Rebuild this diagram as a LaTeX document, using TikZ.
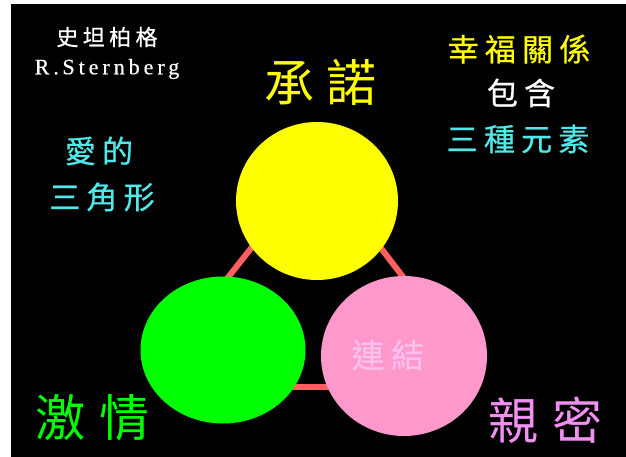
\documentclass[tikz,border=0pt]{standalone}
\usepackage{fontspec}
\setmainfont{Liberation Serif}
\newfontfamily\cjk{Noto Sans CJK TC}
\newfontfamily\cjkwide[LetterSpace=20, FakeBold=0.6]{Noto Sans CJK TC}
\newfontfamily\latinwide[LetterSpace=18, FakeBold=0.5]{Liberation Serif}
\usetikzlibrary{shapes.geometric}
\definecolor{triline}{HTML}{FF5F5F}
\definecolor{commitfill}{HTML}{FFFF00}
\definecolor{passionfill}{HTML}{00FF00}
\definecolor{intimacyfill}{HTML}{FF99CC}
\definecolor{cyantext}{HTML}{50E8E8}
\definecolor{violettext}{HTML}{F090F0}
\definecolor{linktext}{HTML}{FFC0F0}
\begin{document}
\begin{tikzpicture}[x=1pt, y=-1pt,
    circ/.style={ellipse, inner sep=0pt},
    side/.style={triline, line width=6pt},
    bigtext/.style={font=\cjk\fontsize{50}{50}\selectfont, inner sep=0pt},
    midtext/.style={font=\cjkwide\fontsize{31}{31}\selectfont, inner sep=0pt},
    smalltext/.style={font=\cjkwide\fontsize{22}{22}\selectfont, inner sep=0pt, text=white}]
    % background
    \useasboundingbox (0,0) rectangle (626,457);
    \fill[black] (11,4) rectangle (626,457);
    % triangle sides, ends hidden under the circles
    \coordinate (top) at (317,165);
    \coordinate (leftend) at (184,333);
    \coordinate (rightend) at (450,338);
    \coordinate (baseleft) at (250,387);
    \coordinate (baseright) at (440,387);
    \draw[side] (top) -- (leftend);
    \draw[side] (top) -- (rightend);
    \draw[side] (baseleft) -- (baseright);
    % circles
    \node [circ, fill=commitfill, minimum width=162pt, minimum height=158pt] (commit) at (317,201) {};
    \node [circ, fill=passionfill, minimum width=165pt, minimum height=147pt] (passion) at (223,350) {};
    \node [circ, fill=intimacyfill, minimum width=166pt, minimum height=160pt] (intimacy) at (404,356) {};
    % labels
    \node [bigtext, text=commitfill] (commitlabel) at (320,82) {承\hspace{12pt}諾};
    \node [bigtext, text=passionfill] (passionlabel) at (92,418) {激\hspace{14pt}情};
    \node [bigtext, text=violettext] (intimacylabel) at (545,420) {親\hspace{14pt}密};
    \node [font=\cjkwide\fontsize{33}{33}\selectfont, text=linktext, inner sep=0pt] (link) at (388,355) {連結};
    % author
    \node [smalltext] (authorzh) at (107,37) {史坦柏格};
    \node [font=\latinwide\fontsize{22}{22}\selectfont, text=white, inner sep=0pt] (authoren) at (107,69) {R.\,Sternberg};
    % triangle title
    \node [midtext, text=cyantext] (title1) at (99,151) {愛的};
    \node [midtext, text=cyantext] (title2) at (102,197) {三角形};
    % note
    \node [midtext, text=commitfill] (note1) at (519,49) {幸福關係};
    \node [midtext, text=white] (note2) at (521,93) {包含};
    \node [midtext, text=cyantext] (note3) at (518,139) {三種元素};
\end{tikzpicture}
\end{document}
